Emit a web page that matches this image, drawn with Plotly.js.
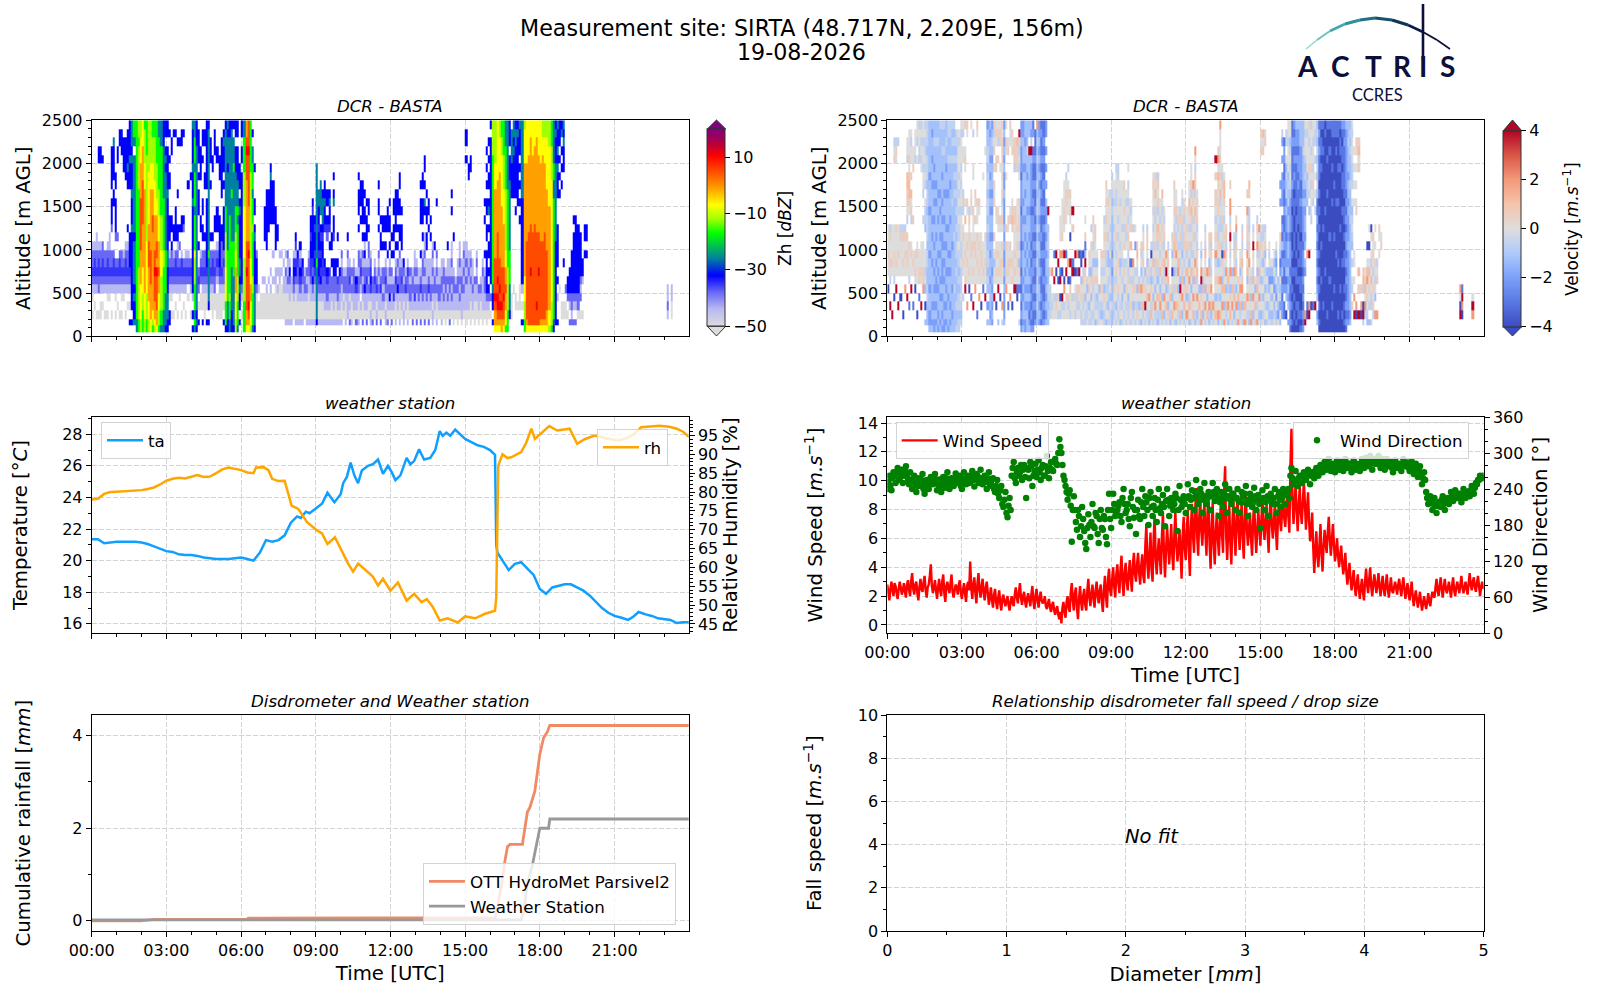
<!DOCTYPE html>
<html>
<head>
<meta charset="utf-8">
<script src="https://cdn.plot.ly/plotly-3.0.1.min.js"></script>
<style>html,body{margin:0;padding:0;background:#fff}</style>
</head>
<body>
<div id="chart" style="width:1600px;height:1000px"></div>
<script>
// radar columns: one word per 5 minutes, one char per altitude bin (bottom to top), '.' = no signal
const altitudeEdges = [50,130,200,300,400,500,600,700,800,900,1000,1100,1200,1300,1400,1500,1600,1700,1800,1900,2000,2100,2200,2300,2400,2500];
const zhCodes = '0123456789ab';
const zhLevels = [-50,-44,-38,-32,-26,-17,-12,-7,-1,5,10.5,-35];
const zhColumns = `
..0.012b221 ...0.12bb21 ..0..12b2211 ..0..22bb21.........33 ..00.12b221.........33 ...0.12bb22.........3 ..0..12b22 ..0.012bb21 ....012b2211 ..0..12b22..2333.33333 .....12bb2.....33.33334 ..0.012b2..23333.33
...0.12b2..2........33 ..0..12bb2............33 ..0.012b22...........333 ....012b21.........3333 ..0..12bb21.......33333 ...0.12b221.3....3343333 .3.0.12b3333.....33343333 .3.3333333334333433343444 .43343444443444444444.4554 4455555555555555555555555 5566666655555555566666566 6677778888999999888877766
5556677788888999998888777 6677788888888888877766665 5566677777766666666665555 6677888899988777777666666 7788889999888888877766666 5678888888889988877766655 6788999a998888777766666555 7889999a89988877666655555 5667788988877766655555544 4556666777666655555555444 4445555566555555444444333 3444455555444444444343.33
3344433344333333433333.33 .33.012b21.333...33.3..3 ..0.012b223.33.......33 ..0..12b21.33..........3 ...0.12bb2.3333........3 ..0..12b22133...3.....3 ....012b2.2.3.........3 ..0..12bb1..33........33 ...0.12b2...23.........3 ..0..12b21 ....0.2b21.......3 ..0..12b2.........3....
3.3.1333333333343334333343 4545556667555545555455544 34344444444444444444443333 .3.0.2b2..3...333.3.3333 ...00.2b21..33....3333 .3.0012b22.33.33....3.33 ..00012b22.3.....33...33 .3.0012b33333333.33333333 .3.34444454444444444444433 ...0012b22.3.....3..333 ..00012bb2.3.......33.. ...0022b22..33.......333
..000.12b21.333.....33 ..00012b333333....333 ..00012b22233...3333333 .3.00122b233333..3.33343 3555777766665554444444443 3344555555444444444344434 4455655555555544444444433 3334444455544444544444443 34444445555444444445444.3 6677788877665554444333.33 4555666555555454443333.33 .3.3343443333343.333.....
..0.123333333333333.33.33 5555666667777776666555544 7889999a9998888888999a988 789a99999a98888999999a999 6777887776666666666555555 4555566555556555455544.3. 3444443333343.33...3.. ..00023332 ..00.1 ..000 ..000.1 ..000.1....3333
..0001....3333333 ..000.1.....33333 ..0001.1.....3333343 ..000.1..1...33333 ..000011..33333 ..0001.1...33 ..000011.1 ..0000.1.1 ..00011.1 .1000112.1 .100012112 .10011231
.100011 ..0012b3b1 .1000123b1b3 .1001122b3 .10012b3213 .100112b3 ..001221 .1001212 .100011221 .100112bb33b33 .1001232b33333b3 .100112b3b33b3
.3444444544444444444 .10012b33b33b3344 .100123b3b3b3.4444 .100122bb33b34443 .101122b3...b33433 .10122b3...2b3.33 .101122b..3.b3343 .100122.3.33 .10112233..b33.43.3 .10012233 .10122b.3..3 .1011223
.100112212 ..010221 .1001221 ..11122212.3 .20102b21 .1001212 ..0112221 .2011b31 .100122122..3.333.3 ..01.12b21...3.333 .200121212.3.33333 ..0113221313.33.3
.20112b21..333.3 ..001212122.3.33 .1101b3b21 .201122 ..0112b21 .2101b21 ..01121212..3.33.3 .2011b21..33.3 ..012122..3.33 .11012b21.3.33 .2011211.3..333 ..0132121.3.33.3
.2011212.3.3 ..01b21..3.33.33 .10012b21.3.33333 ..0113212.3.3.333 .100122212.33.33.33 ..0112b21.333.3 .11012123 ..011b21 .100122b1 ..012212 .2011221 ..01b21211
.20112121 ..012211 .2011b21.3...333.3 ..01221221.3.333.33 .20112121211..34.3.33 ..0122111.33.33.3 .2011b211...3.33 ..0122111..3.3 .1101212121 ..011221..3 .100121212.....3 ..012211
.10112211 ..0121221 .0011221 ..0121211.3 .20112211 ..012121211...3.3 .0011221...3 ..01121 .00112211 ..012121211 .01112211 ..011212121
.0011121211.........3.33 ..01111211........33 .000112121.........33 ..0112111 .000112 ..00112121 .00112 ..00121 .00111121 ..011221.3...3.3 .001233333.33.33.3.3.3 ..0123.3.33.3.43.33.3.3
..0.2.33333333333333333.3 .3.3345555555555555556666 7889a99998888888877766666 789aa9a999998888887777777 789a9a9998888888888777766 889a999988888887777776655 7899a99988888777766665555 5778898877666666655555444 5556666655555555544444444 ..3444555544444444333.333 ..000...........33334444 .....0..........3333343443
...00.........3.33333344343 ...0...........33333333434 ...000.......3.3.3.3.333444 .3.0.133333333334444444444 5566777888888888888877776 7899999999988888888877777 7999999999998888888887777 7999999a99999888888888877 7999999999998888888887777 7999999999999888888888777 799a999999998888888888877 7999999a99998888888887777
7899999999988888888877777 7899999999988888888887766 7899999999998888888877766 7889999999888888877777766 6778888888888887777777666 5666777777777777776666555 3455555555555555445544444 .3333333333444444444333433 .3..1.3.33333...3334343343 .....0..........3.3.3.3333 ..00.............3.3.3.43 ..00....3..........333434
..00.2 ..0.233 .2.12333 .212233333 .2.123333333.3 .2.12333333333 ..02233333333 ..0.21233333 ..0...133 .........3.33 .........3.33 .
. . . . . . . . . . . .
. . . . . . . . . . . .
. . . . . . . . . . . .
. ..1211 . ..0011 . . . . . . . .
`.trim().split(/\s+/);

const velCodes = 'abcdefghij';
const velLevels = [-4,-3,-2,-1.2,-0.6,0,0.6,1.2,2,4];
const velColumns = `
.....a.ffgfff ...j..efgffge ..j....fgffff ....a.effgfff.......gfe .....j.fgfffg.......fge ...j...ffgfff.........e ....a..ffffge ..a....fgffge .....i.ffgfge ....j..fggfg.efgghh.eff ...b..efffg...fghhgfgfff .....j.ffgf..egfh.g.ffef
...b...fgf...g.....gff .....afgfg..........efff ..a...fffgf.........f.effff ....b.ggff..........eeffe ...j..fgfff........fefefe .....iggfff..e..effeffeff .d.a.dfeff..deef.efefeefe .dddeeddeedeeedeedeeedeee dccddcdddcddddcdddcdddddd dcdcddddcddcdcdddcddcddcd ccdcdcdcddcddcdcdcdcddedd dcdcdccdcddcdddcdcddddedd
cdcddcdcdcdddcddcdddddedd dcddcdcddcdcddcdcddddddde cdcdcdcccdccdcdcddcddedde ccdcddcdcdcddcddcddddedde dcdcdcdcddcdcdddcddcddedd cdddcddcdcddcdddcdddeddee dcdcdddcdcdddcdddcddeddee ddcddcddddcddddeddddedede dddddedddddeddddedededede eddedddedeededededededee eedeededeefeefefefefffef .edefeeefeefffeffefefffef
....e..fgffgf.ege...ff.ef .....jgffgff.h.f...fgf..g ...i..ffgfgf..fg.......fg .....afgfffgfge..........g ....b.fffggf..fgf.......f ...j..fgffgfffg...ff...e .....ifffggf.g.fg........f ..b...ffgffg.ffg.......fg ....i.fgffgf..fg.........f ...a..ffggff .....bfgfff.......f ....j.ffgffg.........f....
.d.c.dedeeddedeedeedeeddcd .dcdddcddcdcddcdcdcdcddcd .cdcdcdcdddcddcdcdddcdedc ....j.ffdf.g...gfg.g.gfeg ...a..fgfgf..fg....gg.fgf .d...jfgfgf.fgf.....g.egf ....a.fggff.fg.....f..ggf .e.i..ffgfg.fgfegfgfgggfg .dcccdcdccdcdcccdccdcdcdc .....ifgffg.g.....f..fg.f ...b..fggff.fg.......gf.. ....i.ffgfg..gf.......ffg
...a..gfgf..ghgf.....gfg .....jfgfgfffgg....eggg ....abffgfgfgfff...gggh .e...bfgdfefggfg..fefegj cbcbcbcbccbcccbcccbcccdcc dcddcdcdddcddcdcdddcdddcc ccdcdcdcdcdcdcddcddcddcdd dddcdcddcdcdddcdddcddeddd dcbcdcdcdcdcddcddddddj.dd cbcbcbccbcbcccbcccccdjecd cbbcbcbccbcbccbcbcbbcb.cb .cbcbcbbcbcbcbcbbcbbcbbb
.ddedeededededeededdededi .cdcddcdcddcdcdddcdcdcdcc .bcbcbbcbcbcbbcbcbcbcbbcb .cbcbbcbbcbbcbcbbcbbcbcbb .dcdcdcddcdcdccd.c.c.c.cc .dedeeddedeed.j. ..eeee.g ..fef..i ..ffe.j..b ..fge..a.j ..efg.a.j ..efa.jb.i.fff
..fej..a.i.gffff ..fe.ia..j..fggfff ..ffg..j.b...ffggfe ..feg.a.i.....ffgf.e ..effgb.j..a.fgfg ..ffe..jb...g.j ..efgf.a.j ..feeg.b.i ..fefg.j.a .eefgfd.ab .efegfge.a .eefdffgjdbg.f
.feefdg .efdfgfdfg .eefdfgdffg.e .feffegfdfeffg .dfeefgfdffgg .efedfgfdf .feefd .fdefgfefg .eefgdfefgfgfe .dfefeffeefgfgfgfg .efdeeefddfefffgf .eefdfeedfefefffe
.ddedddcdcddddedefe .feefgefffefeffeff .efdffegfefgfffeeffe .fefegffgffefeffffee .dfefffedfeffffeff .efedfefefffefffff .feffdfge.gfefgffg .efefgffe.fegffef .feedfgefefgfefefe.f .efgffefb.h.gfef .fedfgefi...e .efefgfe..c.f
.fgefdfefhg .efdfhe .dfefifdfeg .fehfgefgfgfe .efjfgfd .fefhfefdfgge .defifegf .fhefgdefae .efgdfefhfefefeffgf .feifdfgefgffegfhfg .defhfdegfeghfegfge .feigdfhfefgfeff
.ehfdfefgfgfgfefh .fdfifgehfegfef .efhfdgjfi .fgdfehfgfe .defhf .fhfdgfafdfg .efifefdfghgefgffg .dfhfgfefigefegff .fegfdfihfefegf .ehfgjdfefegfge .fdfifhefdeeegfef .efhfgdfefggfegf
.fifdgfhfegfgff .dfhefifdfgfefghff .efgfdfhfeefeghfegff .fhfifdgfefgfefggi .defgfhfiffefghfeggefi .fdfifehfgefegfgf .efhfd .ihfgdjifdf .fdgfhef .efifdfgfhefe .fhfdgfi .deifgfhdfgg
.fdhfifefgeg .efif .fhfdfgfeifgfefgg.g.j .difefhfdfgeefggfghfig .fhfdfifefgfeefehfgfgfffi .efifhdfgaefegfffgef .ifdfhfefifgfefghhf .fehfdfifgegg .dfifehf .fhfgdfifegjgeii.g .efifhfd .fdfhefifgee
.efifdfhefgeig .ifdhfg .fehfifdgf .efdfigfhfege .ifhf .fefifdhfieggfi.g .defhfgfifgfeee.gh .ihfdfef .fdfifhefgjfe .efhfdf .ifefhgdfeifge .fdfifehfegfi
.edfefdfefgef........gfg .fefdfefdgfee........gfh .dfefdfefdgfe.........gf .efdfefd .fdefdcdfef .edfdfcdf .fedfcdfdf .edfcdfdcdf .fcdfed .dfcedfcbdeg...c.c ..ccbcbdcbdbcb.cccc.c.ce. ..bb.cbbcbccbbcbbcbbccb.
..a.dcbdcccbccdcededf.ee .c.dcdcdcddcddcededfffeff bcbcbbcbcccbccccdefefedff abababababaabbabbcbbbbcbb aababaabaabbaabbabcbcbcbc ababaabbabaabbabbbbbcbccd aabbaabababbabbbbcbccbccd babaabbabbbabbbcbbccccddd cbcbcbcbccbccccdcddddeddd .ji....cd.dcddcdcdedeffef ..ab.....i.....deedffffef ..ji.....j....d.effgffefg
...a.........efffefgfeffe ...b...........efgfeffeff ...j..........e.f.f.e.eef .dc.dcbcbcbcbcbbdedededed abababababaababababbbcbcb aaaaaabaaabaaaaaaaababbab aaabaaaaaaaabaaaaaaaabaab aaaaaaabaaaaaabaaaaaaaaba aabaaaaaaaaaaaaabaaabaaab aaaaaabaaaabaaaaaaaaabaab aaabaaaaaaaaaaabaaabaaabb aaaaabaaaaabaaaaabaaaaabb
aaaaaaaaabaaaaabaaaaababb aabaaaaabaaaaaabaaabaaabb aaaaabaaaaaabaaaaaababbab aabaaaaabaaaaabaabbabbabc abababaabbababbabbbbbbcbc bcbcbbcbcbccbcbcbcccccccd .cbcccccccdcccdcddcdddedd .dcddddddddddedddedddeded ...g.ef.e.defedf.eeefffef ..j.i.f.ff.....f.f.f.f ..ai..........gf.f.f.fg ..j..g.h...........gfhg
..ai.g .eja.ehg ..eifhgf .defgfihf.a .d.efgfhf.a.f .e.eefhfef.fa ..egfgfefgfg ..i.dfefg.f.f ..i...gfe .........f.fg ..........gf .
. . . . . . . . . . . .
. . . . . . . . . . . .
. . . . . . . . . . . .
..jafi ..aijb . . . . ..ijf . . . . .
`.trim().split(/\s+/);

// weather station
const taHours = [0,.25,.5,.75,1,1.25,1.5,1.75,2,2.25,2.5,2.75,3,3.25,3.5,3.75,4,4.25,4.5,4.75,5,5.25,5.5,5.75,6,6.25,6.5,6.75,7,7.25,7.5,7.75,8,8.25,8.4,8.6,8.75,9,9.25,9.47,9.75,10,10.1,10.25,10.4,10.55,10.7,10.85,11.1,11.3,11.5,11.7,11.9,12.05,12.2,12.4,12.65,12.8,12.95,13.15,13.35,13.6,13.8,13.98,14.1,14.25,14.4,14.6,14.8,15,15.25,15.5,15.75,16,16.2,16.25,16.3,16.5,16.75,17,17.25,17.5,17.75,18,18.25,18.5,18.75,19,19.25,19.5,19.75,20,20.25,20.5,20.75,21,21.25,21.55,21.75,21.97,22.25,22.5,22.75,23,23.25,23.5,23.75,24];
const taValues = [21.35,21.35,21.1,21.15,21.2,21.2,21.2,21.2,21.15,21.05,20.9,20.75,20.6,20.55,20.4,20.35,20.35,20.3,20.2,20.15,20.1,20.1,20.1,20.15,20.2,20.1,20,20.5,21.3,21.2,21.3,21.6,22.4,22.8,22.7,23.1,23,23.3,23.6,24.3,23.7,24.2,24.9,25.3,26.2,25.4,24.9,25.7,26,26.1,26.4,25.5,26,25.6,25.1,25.4,26.5,26.1,26.3,27.05,26.4,26.5,27,28.2,27.9,28.1,27.9,28.3,28,27.7,27.5,27.3,27.2,27,26.7,21,20.5,20,19.4,19.8,19.9,19.5,19.1,18.2,17.9,18.3,18.4,18.5,18.5,18.3,18.1,17.8,17.4,17,16.7,16.5,16.4,16.25,16.45,16.75,16.6,16.5,16.35,16.3,16.25,16.05,16.1,16.1];
const rhHours = [0,.25,.5,.75,1,1.5,2,2.25,2.5,2.75,3,3.25,3.5,3.75,4,4.25,4.5,4.75,5,5.25,5.5,5.75,6,6.25,6.5,6.6,6.9,7.1,7.25,7.5,7.75,8.03,8.3,8.65,9.05,9.25,9.47,9.77,10.08,10.3,10.5,10.7,11.1,11.3,11.5,11.7,12,12.3,12.65,12.95,13.25,13.46,13.7,13.98,14.3,14.7,15,15.4,15.8,16.2,16.25,16.33,16.5,16.7,16.85,17.25,17.45,17.66,17.8,18.1,18.38,18.7,18.95,19.2,19.5,19.8,20.2,20.7,21.15,21.5,21.8,22.07,22.8,23.2,23.5,23.75,24];
const rhValues = [78,78.2,79.5,80,80.1,80.2,80.5,80.8,81.2,82,83,83.5,83.8,83.6,84,84.5,84,84.1,85,86,86.5,86.2,85.8,85.2,85,86.5,86.6,85.8,83.5,82.9,83,76.4,75.5,72,69.8,69,66.2,68,64,61,58.9,61,58.7,57.5,55.2,57,53.8,56,51.2,53,50.8,51.6,49.5,45.9,46.5,45.4,47,46.5,47.7,48.5,52,87,90,89,89.2,90.6,93,96.8,94.1,96,97.5,96.3,96.6,96.8,92.8,94,95,94.2,93.7,94.3,95.4,97.2,97.6,97.3,96.8,96,94.6];

// wind: one value per 5 minutes, one line per hour; the *Mid arrays are the samples 2.5 minutes later
const windSpeed = [
2.8,1.7,3.0,2.0,2.7,1.8,3.0,2.1,2.9,1.9,3.1,2.0,
3.6,2.1,3.0,1.7,3.2,2.3,3.4,1.9,2.8,4.2,2.2,3.1,
1.8,3.2,2.0,3.5,1.6,3.0,2.2,3.5,1.9,2.8,2.1,3.1,
1.8,2.9,1.6,3.0,4.4,1.8,3.3,1.5,3.6,1.9,3.2,1.7,
3.0,1.4,2.6,1.2,2.5,1.1,2.4,1.0,2.1,1.3,2.0,1.0,
2.0,1.3,2.6,1.5,2.9,1.4,2.3,1.2,2.2,1.3,2.7,1.1,
2.5,1.2,2.3,1.5,2.0,1.1,1.8,0.9,1.6,0.7,1.3,0.4,
0.1,1.6,0.5,2.0,0.9,2.9,1.0,2.6,0.4,2.7,1.0,2.5,
1.0,3.2,1.3,2.8,1.2,3.0,1.5,2.8,0.9,3.4,1.2,3.9,
2.0,4.0,1.9,4.2,2.2,4.8,2.0,4.3,2.4,4.5,2.3,5.0,
3.0,5.0,2.8,4.9,2.9,7.0,3.2,6.4,3.0,7.6,3.5,6.0,
3.5,7.8,3.3,6.8,4.2,7.0,3.8,7.9,4.4,6.6,3.2,7.5,
4.5,8.0,3.4,8.4,5.0,9.5,4.8,8.9,5.5,8.5,4.8,9.0,
3.9,8.5,4.2,7.8,4.8,8.7,5.0,11.0,4.5,8.3,4.2,8.7,
4.8,9.0,5.2,8.6,4.6,9.2,5.5,7.8,4.8,8.6,5.0,8.0,
5.5,8.9,5.9,8.4,5.0,9.2,6.0,8.5,5.2,8.8,6.5,9.0,
6.8,9.2,6.4,13.6,7.0,9.8,6.5,9.6,7.0,10.0,6.6,9.2,
5.8,7.8,3.6,6.5,4.0,7.0,3.7,6.6,5.0,7.5,4.8,7.0,
4.4,6.0,4.0,5.5,3.5,5.0,2.8,4.3,2.4,3.8,2.0,3.5,
1.8,3.2,1.7,3.9,2.2,4.0,2.0,3.5,2.2,3.6,2.0,3.4,
2.0,3.5,1.9,3.3,2.2,3.0,2.1,3.2,2.0,3.3,1.8,2.9,
1.7,3.0,1.3,2.4,1.2,2.3,1.0,2.0,1.1,2.2,1.3,2.3,
1.9,3.2,2.0,3.3,1.9,3.2,2.2,3.0,1.9,3.3,2.0,3.0,
2.2,3.4,2.2,3.0,2.1,3.6,2.4,3.3,2.3,3.4,2.0,3.0];
const windSpeedMid = [
2.2,2.5,2.4,2.9,2.2,2.5,2.6,2.4,2.3,2.8,2.4,3.0,
2.5,2.8,2.2,2.6,2.5,3.0,2.4,2.6,3.4,2.7,2.6,2.4,
2.6,2.4,3.0,2.2,2.7,2.5,2.9,2.3,2.4,2.6,2.8,2.2,
2.4,2.2,2.7,2.4,2.6,2.8,2.2,2.9,2.4,2.7,2.2,2.6,
2.2,2.0,1.7,2.1,1.6,1.9,1.5,1.8,1.6,1.7,1.4,1.6,
1.5,2.1,1.9,2.3,1.9,2.0,1.6,1.9,1.7,2.1,1.6,2.0,
1.7,1.9,1.7,1.6,1.3,1.5,1.2,1.4,1.0,1.1,0.7,0.9,
1.2,0.9,1.6,1.2,2.2,1.7,2.2,1.2,1.8,1.6,2.0,1.4,
2.4,1.9,2.2,1.8,2.4,2.0,2.4,1.6,2.4,2.0,3.2,2.4,
3.2,2.6,3.5,2.9,3.8,3.0,3.6,3.0,3.6,3.2,4.2,3.5,
4.2,3.6,4.1,3.4,5.5,4.2,5.0,3.8,6.0,4.5,5.0,4.6,
6.2,5.0,5.2,5.6,5.4,4.9,6.3,5.5,5.2,5.0,6.2,5.3,
6.5,5.2,6.8,6.2,7.8,6.2,7.4,6.5,7.2,6.3,7.8,5.6,
6.6,5.6,6.5,6.0,7.0,6.2,9.2,6.2,6.8,5.7,7.0,6.3,
7.2,6.6,7.2,6.0,7.5,6.6,6.6,6.0,7.2,6.5,6.5,6.8,
7.2,6.8,7.2,6.4,7.6,7.0,7.0,6.6,7.4,7.2,8.0,7.4,
8.0,7.6,11.0,8.8,8.4,8.0,8.2,7.8,8.5,8.4,8.0,7.2,
6.5,5.4,5.2,4.8,5.5,5.0,5.4,5.6,6.4,6.0,5.8,5.6,
5.0,4.8,4.8,4.3,4.2,3.6,3.6,3.2,3.0,2.8,2.8,2.5,
2.6,2.3,3.0,2.8,3.2,2.6,2.9,2.8,2.9,2.6,2.8,2.5,
2.8,2.5,2.6,2.4,2.6,2.6,2.8,2.5,2.7,2.5,2.4,2.2,
2.4,2.0,1.9,1.8,1.7,1.6,1.5,1.5,1.6,1.6,1.9,2.0,
2.6,2.4,2.7,2.5,2.6,2.5,2.6,2.4,2.7,2.4,2.6,2.6,
2.8,2.6,2.6,2.5,2.9,2.8,3.0,2.6,2.9,2.7,2.6,2.5];
const windDirection = [
240,262,238,268,250,275,258,272,262,278,255,268,
240,262,235,258,245,265,232,255,240,260,248,265,
238,256,235,260,242,268,240,258,245,266,250,262,
240,268,248,262,252,270,244,265,250,272,248,262,
240,268,252,258,235,255,225,245,210,235,193,225,
262,285,250,275,268,255,280,225,272,285,245,270,
260,288,255,280,262,295,258,285,270,290,280,323,
300,262,245,222,238,152,228,185,205,160,210,170,
140,198,160,215,175,195,150,205,172,190,148,232,
175,232,195,205,218,185,240,200,215,178,235,192,
165,222,190,240,195,218,180,235,195,225,185,240,
200,230,178,240,195,225,205,232,170,245,210,228,
200,248,210,238,205,255,215,240,200,250,215,235,
205,250,220,240,195,235,210,248,200,240,215,232,
205,240,200,235,218,245,195,232,210,242,205,230,
175,238,205,245,195,232,215,240,200,235,210,240,
215,235,225,275,248,270,245,262,250,268,255,272,
248,268,258,275,262,280,268,285,272,290,270,282,
268,288,272,285,270,290,275,282,268,288,272,280,
270,290,275,292,278,295,272,290,282,295,275,290,
272,290,278,285,268,288,275,282,270,290,278,284,
270,286,265,282,260,278,248,268,235,215,228,205,
225,200,218,210,228,205,222,215,235,220,238,225,
232,218,240,225,236,228,245,232,250,255,262,258];
const windDirectionMid = [
252,246,258,262,268,255,266,250,270,262,248,256,
252,248,245,250,255,240,248,245,252,254,258,250,
248,245,250,248,258,250,248,252,255,258,256,245,
252,258,255,250,262,255,258,262,255,258,255,252,
258,248,245,240,245,232,238,215,222,200,212,205,
275,258,268,262,280,272,260,275,258,278,262,282,
272,268,275,262,278,270,275,272,285,282,300,310,
280,255,235,232,212,205,205,172,195,178,190,150,
175,180,185,178,200,165,190,175,195,160,205,190,
205,215,200,212,195,225,215,205,190,225,210,205,
205,195,218,210,228,205,225,210,212,205,222,208,
215,210,220,222,212,218,215,225,205,222,218,215,
225,228,222,225,235,230,225,232,222,228,225,230,
228,235,232,225,218,225,235,225,228,222,232,225,
225,220,218,228,232,215,222,225,218,228,222,215,
220,225,218,228,222,218,225,215,228,222,225,230,
232,240,262,258,255,252,258,250,262,258,262,265,
262,262,270,268,275,278,275,280,282,278,280,276,
278,282,278,280,282,278,282,276,278,280,282,275,
282,280,285,285,288,282,285,282,288,286,285,282,
282,280,285,275,282,280,278,276,282,284,282,276,
278,275,275,272,270,265,258,255,225,222,218,215,
212,212,212,222,215,218,225,222,228,228,225,232,
225,230,232,232,232,238,238,242,248,255,258,262];

// cumulative rainfall
const parsivelHours = [0,2,2.5,6.2,6.3,16.2,16.3,16.4,16.5,16.6,16.7,16.8,17.3,17.4,17.5,17.6,17.8,17.9,18,18.15,18.3,18.4,24];
const parsivelRain = [0,0,.03,.03,.06,.07,.3,.6,.9,1.3,1.6,1.65,1.65,2,2.35,2.45,2.8,3.2,3.6,3.95,4.08,4.22,4.22];
const stationHours = [0,17.25,17.35,17.5,17.7,17.85,18,18.35,18.4,24];
const stationRain = [.02,.02,.2,.8,1.2,1.6,2,2,2.2,2.2];

const hourMs = 3600000, timeTicks = 3 * hourMs;
const dayStart = Date.UTC(2026, 7, 19);

function stamp(hours) {
    return new Date(dayStart + hours * hourMs).toISOString().slice(0, 19).replace('T', ' ');
}
const hoursToDates = hs => hs.map(stamp);
const fiveMinutes = n => Array.from({length: n}, (_, i) => stamp(i / 12));
const weave = (a, b) => a.flatMap((v, i) => [v, b[i]]);
const windTimes = Array.from({length: windSpeed.length * 2}, (_, i) => stamp(i / 24));

// columns (one string per time) -> z rows (one array per altitude)
function decode(columns, codes, levels) {
    const rows = altitudeEdges.slice(1).map(() => []);
    columns.forEach(word => {
        rows.forEach((row, r) => {
            const idx = r < word.length ? codes.indexOf(word[r]) : -1;
            row.push(idx < 0 ? null : levels[idx]);
        });
    });
    return rows;
}

// pixel position in the 1600x1000 page -> paper coordinates
const W = 1600, H = 1000;
const pX = x => x / W;
const pY = y => 1 - y / H;
const COLS = [[91.7, 688.7], [887.3, 1483.7]];
const ROWS = [[120.3, 336.3], [417, 633], [715.3, 931]];

const FONT = 'DejaVu Sans';
const TICK = {family: FONT, size: 16, color: '#000'};
const LABEL = {family: FONT, size: 19.7, color: '#000'};
const GRID_DASH = '5px,2px';

function baseAxis(extra) {
    return Object.assign({
        showline: true, mirror: true, linecolor: '#000', linewidth: 1,
        ticks: 'outside', ticklen: 5, tickcolor: '#000', tickfont: TICK,
        showgrid: true, gridcolor: '#d3d3d3', griddash: GRID_DASH, gridwidth: 1,
        zeroline: false, automargin: false
    }, extra);
}
function timeAxis(col, row, yId, titled) {
    return baseAxis({
        type: 'date', anchor: yId,
        domain: [pX(COLS[col][0]), pX(COLS[col][1])],
        range: [stamp(0), stamp(23.98)],
        tick0: stamp(0), dtick: timeTicks, tickformat: '%H:%M',
        showticklabels: titled,
        title: titled ? {text: 'Time [UTC]', font: LABEL, standoff: 7} : undefined,
        minor: {dtick: hourMs, tick0: stamp(0), ticks: 'outside', ticklen: 3, tickcolor: '#000', showgrid: false}
    });
}
function valueAxis(col, row, xId, opts) {
    return baseAxis(Object.assign({
        anchor: xId,
        domain: [pY(ROWS[row][1]), pY(ROWS[row][0])]
    }, opts));
}
function twinAxis(xId, over, opts) {
    return Object.assign({
        anchor: xId, overlaying: over, side: 'right', showgrid: false, zeroline: false,
        showline: true, linecolor: '#000', linewidth: 1, ticks: 'outside', ticklen: 5, tickcolor: '#000',
        tickfont: TICK, automargin: false
    }, opts);
}
const minorY = d => ({dtick: d, ticks: 'outside', ticklen: 3, tickcolor: '#000', showgrid: false});

const zhScale = [[0,'#dcdcdc'],[.086,'#b8b8f2'],[.17,'#6a6af5'],[.257,'#0000ff'],[.343,'#0080a0'],[.47,'#00ff00'],[.543,'#a0ff00'],[.614,'#ffff00'],[.714,'#ff9000'],[.864,'#ff0000'],[.93,'#b00040'],[1,'#800080']];
const velScale = [[0,'#3b4cc0'],[.125,'#5977e3'],[.25,'#7b9ff9'],[.375,'#aec9fc'],[.5,'#dddddd'],[.625,'#f5c4ac'],[.75,'#f49a7b'],[.875,'#d95847'],[1,'#b40426']];

function colorbar(left, top, bottom, vals) {
    return {
        x: pX(left), xanchor: 'left', thickness: 18.4, thicknessmode: 'pixels', xpad: 0, ypad: 0,
        y: pY((top + bottom) / 2), yanchor: 'middle', len: bottom - top, lenmode: 'pixels',
        outlinecolor: '#333', outlinewidth: 1, ticks: 'outside', ticklen: 5, tickcolor: '#000',
        tickfont: TICK, tickmode: 'array', tickvals: vals, ticktext: vals.map(v => String(v).replace('-', '\u2212'))
    };
}

const traces = [
    {type: 'heatmap', xaxis: 'x', yaxis: 'y', x: fiveMinutes(zhColumns.length + 1), y: altitudeEdges,
     z: decode(zhColumns, zhCodes, zhLevels), zmin: -50, zmax: 20, colorscale: zhScale,
     colorbar: colorbar(707.3, 129, 326.3, [-50, -30, -10, 10])},
    {type: 'heatmap', xaxis: 'x2', yaxis: 'y2', x: fiveMinutes(velColumns.length + 1), y: altitudeEdges,
     z: decode(velColumns, velCodes, velLevels), zmin: -4, zmax: 4, colorscale: velScale,
     colorbar: colorbar(1503.3, 130.7, 326.7, [-4, -2, 0, 2, 4])},
    {type: 'scatter', mode: 'lines', name: 'ta', legend: 'legend', xaxis: 'x3', yaxis: 'y3',
     x: hoursToDates(taHours), y: taValues, line: {color: '#0f9fff', width: 2.5}},
    {type: 'scatter', mode: 'lines', name: 'rh', legend: 'legend2', xaxis: 'x3', yaxis: 'y7',
     x: hoursToDates(rhHours), y: rhValues, line: {color: '#ffa500', width: 2.5}},
    {type: 'scatter', mode: 'lines', name: 'Wind Speed', legend: 'legend3', xaxis: 'x4', yaxis: 'y4',
     x: windTimes, y: weave(windSpeed, windSpeedMid), line: {color: '#ff0000', width: 2.4}},
    {type: 'scatter', mode: 'markers', name: 'Wind Direction', legend: 'legend4', xaxis: 'x4', yaxis: 'y8',
     x: windTimes, y: weave(windDirection, windDirectionMid), marker: {color: '#008000', size: 6.5}},
    {type: 'scatter', mode: 'lines', name: 'OTT HydroMet Parsivel2', legend: 'legend5', xaxis: 'x5', yaxis: 'y5',
     x: hoursToDates(parsivelHours), y: parsivelRain, line: {color: '#f08a65', width: 2.8}},
    {type: 'scatter', mode: 'lines', name: 'Weather Station', legend: 'legend5', xaxis: 'x5', yaxis: 'y5',
     x: hoursToDates(stationHours), y: stationRain, line: {color: '#999999', width: 2.8}},
    {type: 'scatter', mode: 'markers', x: [], y: [], xaxis: 'x6', yaxis: 'y6', showlegend: false}
];

function legendBox(left, top) {
    return {x: pX(left), y: pY(top), xanchor: 'left', yanchor: 'top', xref: 'paper', yref: 'paper',
        bgcolor: 'rgba(255,255,255,0.8)', bordercolor: '#d3d3d3', borderwidth: 1,
        font: {family: FONT, size: 16.7, color: '#000'}, itemwidth: 36, tracegroupgap: 0};
}

const panelTitles = [
    ['DCR - BASTA', 0, 106.3], ['DCR - BASTA', 1, 106.3],
    ['weather station', 0, 403.6], ['weather station', 1, 403.6],
    ['Disdrometer and Weather station', 0, 701], ['Relationship disdrometer fall speed / drop size', 1, 701]
];
const annotations = panelTitles.map(([text, col, y]) => ({
    text: '<i>' + text + '</i>', xref: 'paper', yref: 'paper', showarrow: false,
    x: pX((COLS[col][0] + COLS[col][1]) / 2), y: pY(y), xanchor: 'center', yanchor: 'middle',
    font: {family: FONT, size: 16.6, color: '#000'}
}));
annotations.push({text: '<i>No fit</i>', xref: 'x6', yref: 'y6', x: 2.22, y: 4.4, showarrow: false,
    font: {family: FONT, size: 19.5, color: '#000'}});
annotations.push({text: '19-08-2026', xref: 'paper', yref: 'paper', x: 0.5012, y: pY(52), showarrow: false,
    xanchor: 'center', yanchor: 'middle', font: {family: FONT, size: 22.2, color: '#000'}});

// colorbar labels
[['Zh [<i>dBZ</i>]', 785, 229], ['Velocity [<i>m.s</i><sup>\u22121</sup>]', 1571, 229]].forEach(([text, x, y]) => {
    annotations.push({text: text, xref: 'paper', yref: 'paper', x: pX(x), y: pY(y), showarrow: false, textangle: -90,
        xanchor: 'center', yanchor: 'middle', font: {family: FONT, size: 17, color: '#000'}});
});

// logo, top right
const logoLetters = ['A', 'C', 'T', 'R', 'I', 'S'];
const logoLetterX = [1307, 1340, 1373, 1402, 1423, 1447];
logoLetters.forEach((ch, i) => annotations.push({
    text: ch, xref: 'paper', yref: 'paper', showarrow: false, x: pX(logoLetterX[i]), y: pY(66),
    xanchor: 'center', yanchor: 'middle', font: {family: 'Lato', size: 28, weight: 'bold', color: '#0b0f3a'}
}));
annotations.push({text: 'CCRES', xref: 'paper', yref: 'paper', showarrow: false, x: pX(1377), y: pY(94.5),
    xanchor: 'center', yanchor: 'middle', font: {family: 'Lato', size: 16.5, color: '#0b0f3a'}});

const logoArcX = [1306,1317,1330,1345,1360,1375,1392,1408,1423,1437,1450];
const logoArcY = [49,40,31,24,20,18,20,25,32,40,49];
const logoArcColors = ['#9ad6d2','#6fc0c0','#46a6ae','#2f8f9c','#1f6f85','#15506e','#0f3458','#0c1c48','#0b0f3a','#0b0f3a'];
const logoArcWidths = [1.6,2,2.6,3,3.2,3.2,3,2.6,2,1.6];
const shapes = logoArcColors.map((color, i) => ({
    type: 'line', xref: 'paper', yref: 'paper', layer: 'above',
    x0: pX(logoArcX[i]), y0: pY(logoArcY[i]), x1: pX(logoArcX[i + 1]), y1: pY(logoArcY[i + 1]),
    line: {color: color, width: logoArcWidths[i]}
}));
shapes.push({type: 'line', xref: 'paper', yref: 'paper', x0: pX(1423), x1: pX(1423), y0: pY(4), y1: pY(60),
    line: {color: '#0b0f3a', width: 2.6}});

// colorbar extension triangles
function triangle(left, base, tip, fill) {
    const right = left + 18.4, mid = left + 9.2;
    return {type: 'path', xref: 'paper', yref: 'paper', fillcolor: fill, line: {color: '#333', width: 1},
        path: `M ${pX(left)} ${pY(base)} L ${pX(mid)} ${pY(tip)} L ${pX(right)} ${pY(base)} Z`};
}
shapes.push(triangle(707.3, 129, 120, '#800080'), triangle(707.3, 326.3, 336, '#dcdcdc'),
    triangle(1503.3, 130.7, 120, '#b40426'), triangle(1503.3, 326.7, 336, '#3b4cc0'));

const axisTitle = (text, standoff) => ({text: text, font: LABEL, standoff: standoff});
const speedTitle = 'Wind Speed [<i>m.s</i><sup>\u22121</sup>]';

const layout = {
    width: W, height: H,
    margin: {l: 0, r: 0, t: 0, b: 0, autoexpand: false},
    paper_bgcolor: '#fff', plot_bgcolor: '#fff',
    showlegend: true,
    title: {text: 'Measurement site: SIRTA (48.717N, 2.209E, 156m)',
        font: {family: FONT, size: 22.2, color: '#000'}, x: 0.5012, xanchor: 'center', y: pY(28.6), yanchor: 'middle'},
    xaxis: timeAxis(0, 0, 'y', false),
    yaxis: valueAxis(0, 0, 'x', {range: [0, 2500], dtick: 500, minor: minorY(100), title: axisTitle('Altitude [m AGL]', 5)}),
    xaxis2: timeAxis(1, 0, 'y2', false),
    yaxis2: valueAxis(1, 0, 'x2', {range: [0, 2500], dtick: 500, minor: minorY(100), title: axisTitle('Altitude [m AGL]', 5)}),
    xaxis3: timeAxis(0, 1, 'y3', false),
    yaxis3: valueAxis(0, 1, 'x3', {range: [15.42, 29.09], dtick: 2, minor: minorY(1), title: axisTitle('Temperature [<i>\u00b0C</i>]', 29)}),
    yaxis7: twinAxis('x3', 'y3', {range: [42.6, 99.9], dtick: 5, minor: minorY(1), title: axisTitle('Relative Humidity [%]', 5)}),
    xaxis4: timeAxis(1, 1, 'y4', true),
    yaxis4: valueAxis(1, 1, 'x4', {range: [-0.56, 14.42], dtick: 2, minor: minorY(1), title: axisTitle(speedTitle, 29)}),
    yaxis8: twinAxis('x4', 'y4', {range: [0, 360], dtick: 60, minor: minorY(20), title: axisTitle('Wind Direction [\u00b0]', 10)}),
    xaxis5: timeAxis(0, 2, 'y5', true),
    yaxis5: valueAxis(0, 2, 'x5', {range: [-0.22, 4.44], dtick: 2, minor: minorY(1), title: axisTitle('Cumulative rainfall [<i>mm</i>]', 36)}),
    xaxis6: baseAxis({anchor: 'y6', domain: [pX(COLS[1][0]), pX(COLS[1][1])], range: [0, 5], dtick: 1,
        minor: minorY(0.5), title: {text: 'Diameter [<i>mm</i>]', font: LABEL, standoff: 8}}),
    yaxis6: valueAxis(1, 2, 'x6', {range: [0, 10], dtick: 2, minor: minorY(1), title: axisTitle('Fall speed [<i>m.s</i><sup>\u22121</sup>]', 30)}),
    legend: legendBox(101, 422),
    legend2: legendBox(597, 429),
    legend3: legendBox(895.7, 422),
    legend4: legendBox(1293, 422),
    legend5: legendBox(423, 863),
    annotations: annotations,
    shapes: shapes
};

Plotly.newPlot('chart', traces, layout, {displayModeBar: false, staticPlot: true});
</script>
</body>
</html>
